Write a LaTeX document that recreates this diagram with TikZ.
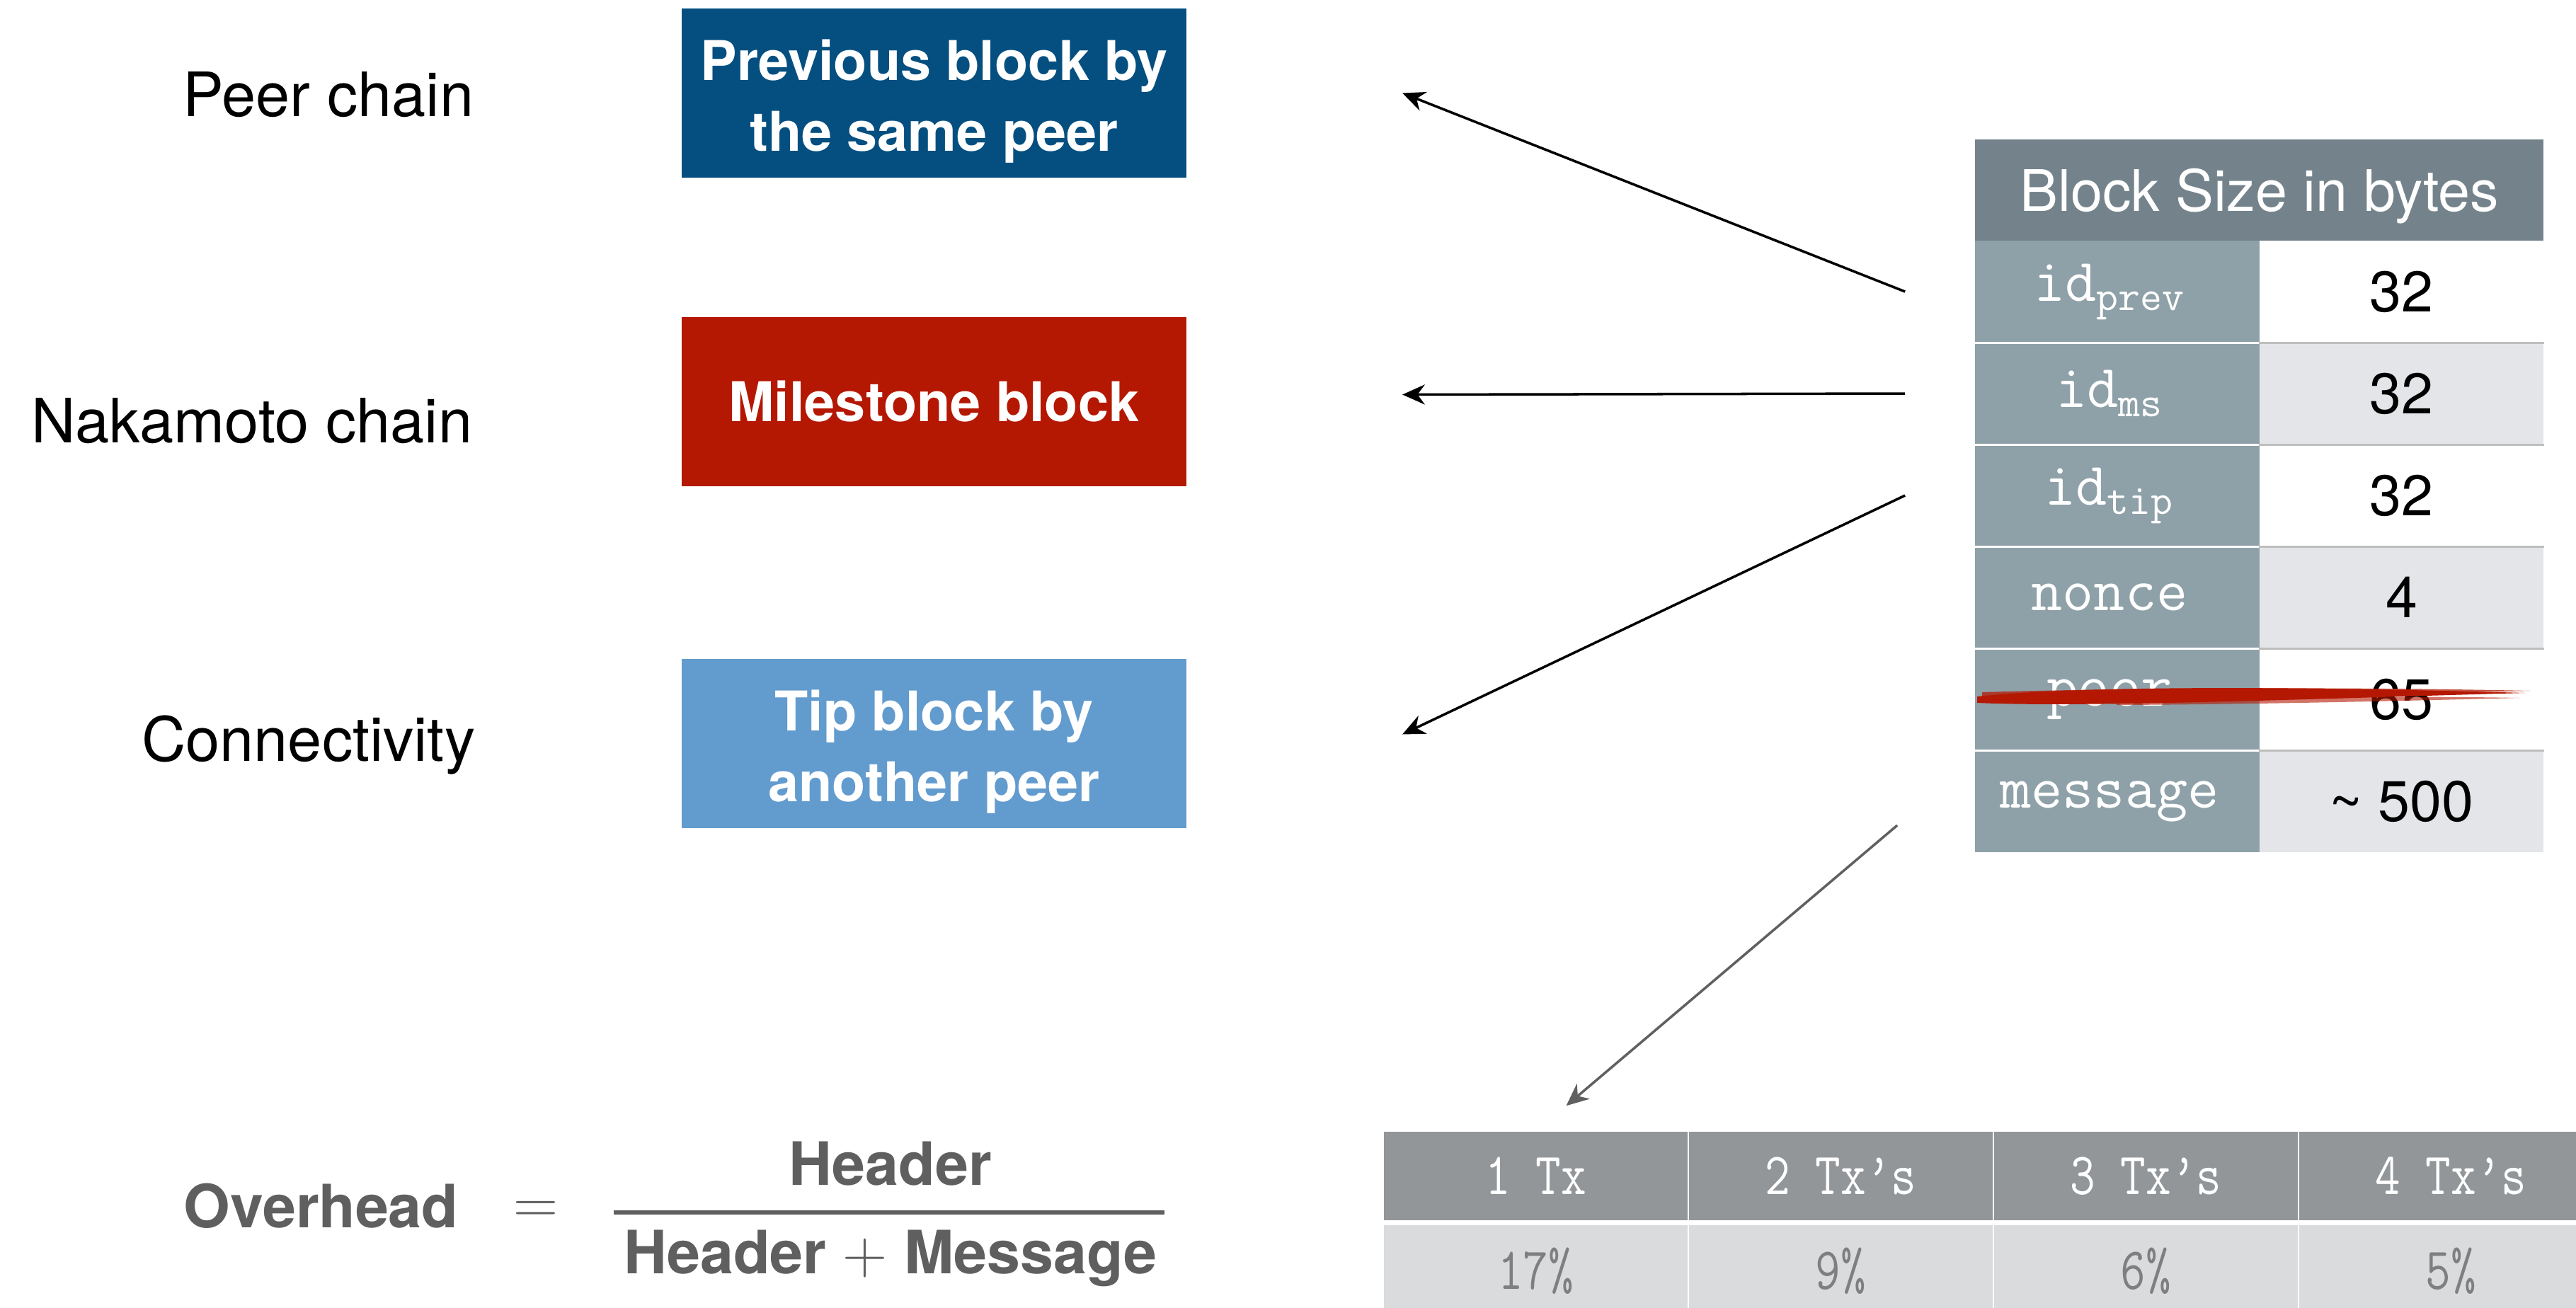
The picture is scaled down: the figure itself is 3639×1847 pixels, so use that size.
\documentclass[tikz,border=0pt]{standalone}
\usepackage{fontspec}
\setmainfont{TeX Gyre Heros}
\usepackage{graphicx}
\usetikzlibrary{arrows.meta,positioning}
\definecolor{peerblue}{HTML}{044F80}
\definecolor{msred}{HTML}{B41802}
\definecolor{tipblue}{HTML}{629BCE}
\definecolor{hdrgray}{HTML}{74838B}
\definecolor{keygray}{HTML}{8FA1A8}
\definecolor{rowlight}{HTML}{E4E5E8}
\definecolor{sepgray}{HTML}{BEBEBE}
\definecolor{txhead}{HTML}{929699}
\definecolor{txbody}{HTML}{DADBDD}
\definecolor{txtext}{HTML}{7F7F7F}
\definecolor{ovhgray}{HTML}{5F5F5F}
\definecolor{arrgray}{HTML}{606060}
\newcommand{\idf}[1]{$\mathtt{id}_{\mathtt{#1}}$}
\newcommand{\txfont}[1]{\scalebox{0.82}[1]{#1}}
\newcommand{\toprule}{\rule{0pt}{1.05em}}

\begin{document}
\begin{tikzpicture}[x=0.01cm,y=-0.01cm,>={Stealth[length=9pt,width=8pt]},
 blk/.style={minimum width=7.13cm,minimum height=2.39cm,inner sep=0,align=center,text=white,font=\fontsize{22}{28.5}\selectfont\bfseries},
 chain/.style={anchor=base east,inner sep=0,font=\fontsize{24.6}{29}\selectfont},
 keycell/.style={fill=keygray,minimum width=4.02cm,minimum height=1.44cm,inner sep=0,text=white,font=\fontsize{24.4}{29}\selectfont\ttfamily},
 valcell/.style={minimum width=4.01cm,minimum height=1.44cm,inner sep=0,font=\fontsize{23}{28}\selectfont},
 txcell/.style={minimum width=4.29cm,inner sep=0,font=\fontsize{24}{29}\selectfont\ttfamily},
 ptr/.style={->,line width=1pt},
 frac/.style={inner sep=0,text=ovhgray,font=\fontsize{24}{29}\selectfont\bfseries}]
\useasboundingbox (0,0) rectangle (3639,1847);

% referenced blocks
\node[blk,fill=peerblue] (prevblk) at (1319.5,131.5) {\toprule Previous block by\\the same peer};
\node[blk,fill=msred] (msblk) at (1319.5,567.5) {Milestone block};
\node[blk,fill=tipblue] (tipblk) at (1319.5,1050.5) {\toprule Tip block by\\another peer};

\node[chain] (peerlbl) at (670,164) {Peer chain};
\node[chain] (nakalbl) at (668,625) {Nakamoto chain};
\node[chain] (connlbl) at (672,1075) {Connectivity};

% block size table
\node[fill=hdrgray,minimum width=8.03cm,minimum height=1.43cm,inner sep=0,text depth=0pt,text=white,font=\fontsize{23}{28}\selectfont] (sizehdr) at (3191.5,268.5) {Block Size in bytes};
\foreach \key/\val/\bg [count=\i] in {{\idf{prev}}/32/white,{\idf{ms}}/32/rowlight,{\idf{tip}}/32/white,nonce/4/rowlight,peer/65/white,message/{\textasciitilde\ 500}/rowlight}{
  \node[keycell] (k\i) at (2991,268+144*\i) {\key\hspace*{0.22cm}};
  \node[valcell,fill=\bg] (v\i) at (3392.5,268+144*\i) {\val};
}
\foreach \i in {1,...,5}{
  \draw[white,line width=0.8pt] (k\i.south west) -- (k\i.south east);
  \draw[sepgray,line width=0.8pt] (v\i.south west) -- (v\i.south east);
}
% crossed out row
\fill[msred] (2793,984) .. controls (2950,968) and (3250,970) .. (3567,979) .. controls (3300,986) and (2950,1000) .. (2793,993) -- cycle;
\fill[msred,opacity=.75] (2800,978) .. controls (3000,972) and (3300,970) .. (3575,976) .. controls (3350,981) and (3050,986) .. (2800,986) -- cycle;
\fill[msred,opacity=.6] (2990,990) .. controls (3200,985) and (3400,983) .. (3560,986) .. controls (3400,990) and (3200,995) .. (2990,996) -- cycle;

% transactions table
\foreach \hd/\pc [count=\i] in {1 Tx/17\%,2 Tx’s/9\%,3 Tx’s/6\%,4 Tx’s/5\%}{
  \node[txcell,fill=txhead,minimum height=1.25cm,text=white] (tx\i) at (1738.5+431*\i,1661.5) {\txfont{\hd}};
  \node[txcell,fill=txbody,minimum height=1.29cm,text=txtext] (pc\i) at (1738.5+431*\i,1795.5) {\txfont{\pc}};
}

\draw[ptr] ([xshift=-0.98cm]k1.west) -- ([xshift=3.04cm]prevblk.east);
\draw[ptr] ([xshift=-0.98cm]k2.west) -- ([xshift=3.04cm,yshift=0.1cm]msblk.east);
\draw[ptr] ([xshift=-0.98cm]k3.west) -- ([xshift=3.04cm,yshift=0.13cm]tipblk.east);
\draw[ptr,arrgray] ([xshift=-1.09cm,yshift=-0.34cm]k6.west) -- ([xshift=0.43cm,yshift=0.36cm]tx1.north);

% overhead formula
\node[frac,anchor=base west] (ovh) at (259,1734) {Overhead};
\node[frac] (eq) at (757,1713) {$=$};
\node[frac,anchor=base] (num) at (1258,1674) {Header};
\node[frac,anchor=base] (den) at (1258,1799) {Header $+$ Message};
\coordinate (barl) at (867,1713);
\coordinate (barr) at (1645,1713);
\draw[ovhgray,line width=1.7pt] (barl) -- (barr);
\end{tikzpicture}
\end{document}
